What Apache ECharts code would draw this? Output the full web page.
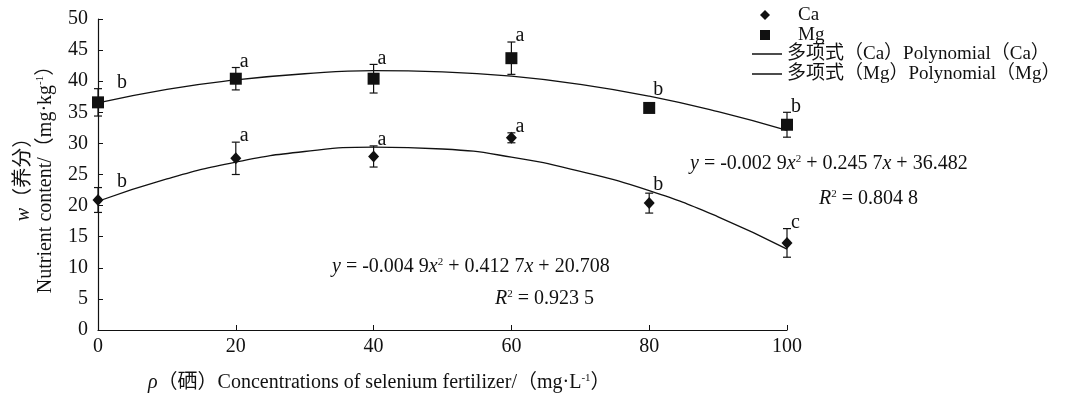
<!DOCTYPE html>
<html lang="en">
<head>
<meta charset="UTF-8" />
<title>Ca Mg nutrient content</title>
<script src="https://cdn.jsdelivr.net/npm/echarts@6/dist/echarts.min.js"></script>
<style>
* { margin: 0; padding: 0; }
body { background: #fff; }
</style>
</head>
<body>
<div id="main" style="width:1069px;height:404px"></div>
<script>
var FONT = "'Liberation Serif', 'Noto Sans CJK SC', serif"
var INK = "#111"

// selenium concentration (mg/L)
var concentrations = [0, 20, 40, 60, 80, 100]
var xTicks = [0, 20, 40, 60, 80, 100]
var yTicks = [0, 5, 10, 15, 20, 25, 30, 35, 40, 45, 50]

// measured means and error bars
var caMean = [20.9, 27.6, 27.9, 30.9, 20.4, 14.0]
var caErr = [2.0, 2.6, 1.7, 0.8, 1.6, 2.3]
var caLetters = ["b", "a", "a", "a", "b", "c"]
var mgMean = [36.6, 40.4, 40.4, 43.7, 35.7, 33.0]
var mgErr = [2.2, 1.8, 2.3, 2.6, 0.4, 2.0]
var mgLetters = ["b", "a", "a", "a", "b", "b"]

// fitted curves
var fitX = [0, 10, 20, 30, 40, 50, 60, 70, 80, 90, 100]
var caFit = [20.7, 24.3, 27.0, 28.7, 29.4, 29.1, 27.8, 25.5, 22.4, 18.2, 13.0]
var mgFit = [36.5, 38.7, 40.2, 41.2, 41.7, 41.5, 40.8, 39.5, 37.6, 35.1, 32.1]

var CA_FIT_NAME = "多项式（Ca）Polynomial（Ca）"
var MG_FIT_NAME = "多项式（Mg）Polynomial（Mg）"

var rich = {
	it: { fontFamily: FONT, fontStyle: "italic", fontSize: 20, color: INK },
	sup: { fontFamily: FONT, fontSize: 11, color: INK, verticalAlign: "top", padding: [0, 0, 8, 0] }
}

function pairs(xs, ys) {
	return xs.map(function(x, i) { return [x, ys[i]] })
}

function errorSeries(mean, err, fit, letters) {
	var data = concentrations.map(function(x, i) {
		return [x, mean[i], err[i], fit[fitX.indexOf(x)]]
	})
	return {
		type: "custom",
		z: 1,
		clip: false,
		silent: true,
		data: data,
		encode: { x: 0, y: 1 },
		renderItem: function(params, api) {
			var x = api.value(0), m = api.value(1), e = api.value(2), f = api.value(3)
			var top = api.coord([x, m + e])
			var bot = api.coord([x, m - e])
			var anchor = api.coord([x, Math.max(m + e, f)])
			var cap = 4
			var ls = { stroke: INK, lineWidth: 1.2 }
			var dx = x === 0 ? 19 : 4
			return {
				type: "group",
				children: [
					{ type: "line", shape: { x1: top[0], y1: top[1], x2: bot[0], y2: bot[1] }, style: ls },
					{ type: "line", shape: { x1: top[0] - cap, y1: top[1], x2: top[0] + cap, y2: top[1] }, style: ls },
					{ type: "line", shape: { x1: bot[0] - cap, y1: bot[1], x2: bot[0] + cap, y2: bot[1] }, style: ls },
					{
						type: "text",
						x: anchor[0] + dx,
						y: anchor[1] + 4,
						style: {
							text: letters[params.dataIndex],
							font: "20px " + FONT,
							fill: INK,
							verticalAlign: "bottom",
							align: "left"
						}
					}
				]
			}
		}
	}
}

var legendText = { fontFamily: FONT, fontSize: 19, color: INK, lineHeight: 20 }

var option = {
	animation: false,
	backgroundColor: "#fff",
	textStyle: { fontFamily: FONT, color: INK },
	grid: { left: 98, right: 282, top: 19, bottom: 74 },
	legend: [
		{
			orient: "vertical",
			left: 755,
			top: 0,
			itemWidth: 10,
			itemHeight: 10,
			itemGap: 0,
			textStyle: Object.assign({}, legendText, { padding: [0, 0, 0, 23] }),
			data: [
				{ name: "Ca", icon: "diamond" },
				{ name: "Mg", icon: "rect" }
			]
		},
		{
			orient: "vertical",
			left: 747,
			top: 39,
			itemWidth: 30,
			itemHeight: 1.5,
			itemGap: 0,
			textStyle: Object.assign({}, legendText, { padding: [0, 0, 0, 0] }),
			data: [
				{ name: CA_FIT_NAME, icon: "rect" },
				{ name: MG_FIT_NAME, icon: "rect" }
			]
		}
	],
	xAxis: {
		type: "value",
		min: xTicks[0],
		max: xTicks[xTicks.length - 1],
		interval: 20,
		axisLine: { lineStyle: { color: INK, width: 1.2 } },
		axisTick: { inside: true, length: 5, lineStyle: { color: INK } },
		axisLabel: { fontFamily: FONT, fontSize: 20, color: INK, margin: 7 },
		splitLine: { show: false }
	},
	yAxis: {
		type: "value",
		min: yTicks[0],
		max: yTicks[yTicks.length - 1],
		interval: 5,
		name: "{it|w}（养分）\nNutrient content/（mg·kg{sup|-1}）",
		nameLocation: "middle",
		nameRotate: 90,
		nameGap: 38,
		nameTextStyle: { fontFamily: FONT, fontSize: 20, color: INK, lineHeight: 22, rich: rich },
		axisLine: { show: true, lineStyle: { color: INK, width: 1.2 } },
		axisTick: { show: true, inside: true, length: 5, lineStyle: { color: INK } },
		axisLabel: { fontFamily: FONT, fontSize: 20, color: INK, margin: 10 },
		splitLine: { show: false }
	},
	graphic: [
		{
			type: "text",
			left: 148,
			top: 373,
			style: {
				text: "{it|ρ}（硒）Concentrations of selenium fertilizer/（mg·L{sup|-1}）",
				font: "20px " + FONT,
				fill: INK,
				rich: rich
			}
		},
		{
			type: "text",
			left: 690,
			top: 154,
			style: { text: "{it|y} = -0.002 9{it|x}{sup|2} + 0.245 7{it|x} + 36.482", font: "20px " + FONT, fill: INK, rich: rich }
		},
		{
			type: "text",
			left: 819,
			top: 189,
			style: { text: "{it|R}{sup|2} = 0.804 8", font: "20px " + FONT, fill: INK, rich: rich }
		},
		{
			type: "text",
			left: 332,
			top: 257,
			style: { text: "{it|y} = -0.004 9{it|x}{sup|2} + 0.412 7{it|x} + 20.708", font: "20px " + FONT, fill: INK, rich: rich }
		},
		{
			type: "text",
			left: 495,
			top: 289,
			style: { text: "{it|R}{sup|2} = 0.923 5", font: "20px " + FONT, fill: INK, rich: rich }
		}
	],
	series: [
		errorSeries(caMean, caErr, caFit, caLetters),
		errorSeries(mgMean, mgErr, mgFit, mgLetters),
		{
			name: CA_FIT_NAME,
			type: "line",
			smooth: 0.5,
			symbol: "none",
			z: 2,
			lineStyle: { color: INK, width: 1.3 },
			itemStyle: { color: INK },
			data: pairs(fitX, caFit)
		},
		{
			name: MG_FIT_NAME,
			type: "line",
			smooth: 0.5,
			symbol: "none",
			z: 2,
			lineStyle: { color: INK, width: 1.3 },
			itemStyle: { color: INK },
			data: pairs(fitX, mgFit)
		},
		{
			name: "Ca",
			type: "scatter",
			symbol: "diamond",
			symbolSize: [11, 12],
			z: 3,
			itemStyle: { color: INK, opacity: 1 },
			data: pairs(concentrations, caMean)
		},
		{
			name: "Mg",
			type: "scatter",
			symbol: "rect",
			symbolSize: 12,
			z: 3,
			itemStyle: { color: INK, opacity: 1 },
			data: pairs(concentrations, mgMean)
		}
	]
}

var myChart = echarts.init(document.getElementById("main"))
myChart.setOption(option)
</script>
</body>
</html>
